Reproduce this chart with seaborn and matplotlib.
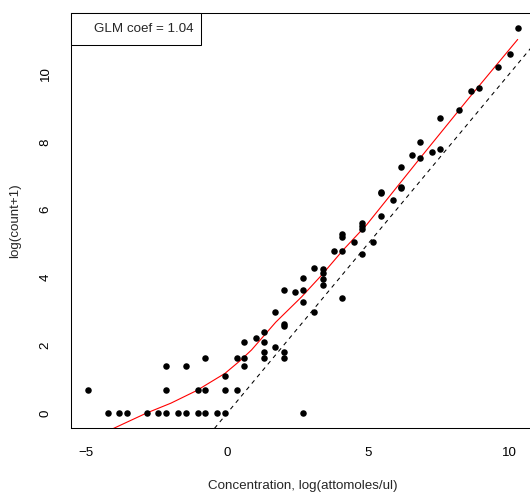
import matplotlib
matplotlib.use("Agg")
import matplotlib.pyplot as plt
from matplotlib.patches import Rectangle
import seaborn as sns
import pandas as pd

# ---- data ----
conc = [-4.95,
        -4.24, -3.85, -3.56, -2.86, -2.45, -2.16, -1.76, -1.46, -1.05, -0.78, -0.38, -0.09, 2.70,
        -2.16, -1.05, -0.78, -0.09, 0.33,
        -2.16, -1.46, 0.60,
        -0.78, 0.33, 0.60, 1.30, 2.00,
        -0.09,
        0.60, 1.30,
        1.02, 1.30,
        1.30, 2.00,
        1.70,
        1.70, 3.09,
        2.00, 2.00,
        2.00, 2.70,
        2.40, 2.70, 2.70,
        3.09,
        3.40, 3.40, 3.40, 3.40,
        4.08, 3.77, 4.08,
        4.07, 4.07, 4.48, 4.77,
        4.77, 4.77, 4.77, 5.18,
        5.45, 5.45, 5.45, 5.87,
        6.15, 6.15, 6.15, 6.56,
        6.84, 6.84, 7.25, 7.54, 7.54,
        8.23, 8.63, 8.93, 9.61, 10.02, 10.30]
logcount = [0.69,
            0, 0, 0, 0, 0, 0, 0, 0, 0, 0, 0, 0, 0,
            0.69, 0.69, 0.69, 0.69, 0.69,
            1.39, 1.39, 1.39,
            1.61, 1.61, 1.61, 1.61, 1.61,
            1.10,
            2.08, 2.08,
            2.20, 2.40,
            1.79, 1.79,
            1.95,
            2.99, 2.99,
            2.64, 2.56,
            3.63, 3.63,
            3.58, 3.98, 3.28,
            4.29,
            4.24, 4.12, 3.94, 3.78,
            3.40, 4.78, 4.78,
            5.28, 5.20, 5.05, 4.68,
            5.60, 5.52, 5.42, 5.04,
            6.51, 6.48, 5.80, 6.28,
            7.27, 6.66, 6.63, 7.61,
            8.00, 7.53, 7.71, 7.78, 8.69,
            8.93, 9.49, 9.59, 10.21, 10.60, 11.35]

fit_x = [-4.95, -4.10, -2.86, -2.00, -1.09, -0.08, 0.45, 0.86, 1.72, 2.64, 3.35,
         4.11, 4.94, 6.83, 8.51, 10.30]
fit_y = [-0.78, -0.48, 0.00, 0.29, 0.66, 1.17, 1.54, 1.86, 2.68, 3.43, 4.07,
         4.81, 5.55, 7.51, 9.23, 11.02]

x_ticks = [-5, 0, 5, 10]
y_ticks = [0, 2, 4, 6, 8, 10]
legend_text = "GLM coef = 1.04"
x_label = "Concentration, log(attomoles/ul)"
y_label = "log(count+1)"

pts = pd.DataFrame({"conc": conc, "logcount": logcount})
fit = pd.DataFrame({"x": fit_x, "y": fit_y})

sns.set_style("white")
plt.rcParams["font.family"] = ["Liberation Sans", "DejaVu Sans"]
plt.rcParams["axes.unicode_minus"] = True

FS = 9.6
W, H = 530, 494
fig = plt.figure(figsize=(W / 100, H / 100), dpi=100)
l, r, t, b = 70.5, 534.9, 13.0, 428.4
ax = fig.add_axes([l / W, (H - b) / H, (r - l) / W, (b - t) / H])

# identity line (dashed)
ax.axline((0, 0), slope=1, color="black", lw=0.75, ls=(0, (4, 4)), zorder=1)
# fitted curve
sns.lineplot(data=fit, x="x", y="y", ax=ax, color="red", lw=0.8,
             sort=False, estimator=None, zorder=2)
# points
sns.scatterplot(data=pts, x="conc", y="logcount", ax=ax, color="black",
                s=22, linewidth=0, zorder=3)

ax.set_xlim(-5.56, 10.91)
ax.set_ylim(-0.454, 11.80)
ax.set_xticks(x_ticks)
ax.set_yticks(y_ticks)
ax.set_xticklabels([str(v).replace("-", "\u2212") for v in x_ticks])
ax.set_yticklabels([str(v) for v in y_ticks], rotation=90, va="center")
ax.tick_params(axis="both", direction="out", length=7, width=0.75,
               color="black", labelsize=FS, pad=6.5, labelcolor="black")
for s in ax.spines.values():
    s.set_color("black")
    s.set_linewidth(0.75)

ax.set_xlabel(x_label, fontsize=FS, va="center")
ax.set_ylabel(y_label, fontsize=FS, va="center")
ax.xaxis.set_label_coords(0.5, -(485.7 - b) / (b - t))
ax.yaxis.set_label_coords(-(l - 15) / (r - l), 0.5)

# legend box
bw = (201 - l) / (r - l)
bh = (45 - t) / (b - t)
ax.add_patch(Rectangle((0, 1 - bh), bw, bh, transform=ax.transAxes,
                       fill=True, facecolor="white", edgecolor="black",
                       lw=0.75, zorder=5, clip_on=False))
ax.text((194 - l) / (r - l), 1 - bh / 2, legend_text, transform=ax.transAxes,
        ha="right", va="center", fontsize=FS, zorder=6)

fig.savefig("out.png", dpi=100)
